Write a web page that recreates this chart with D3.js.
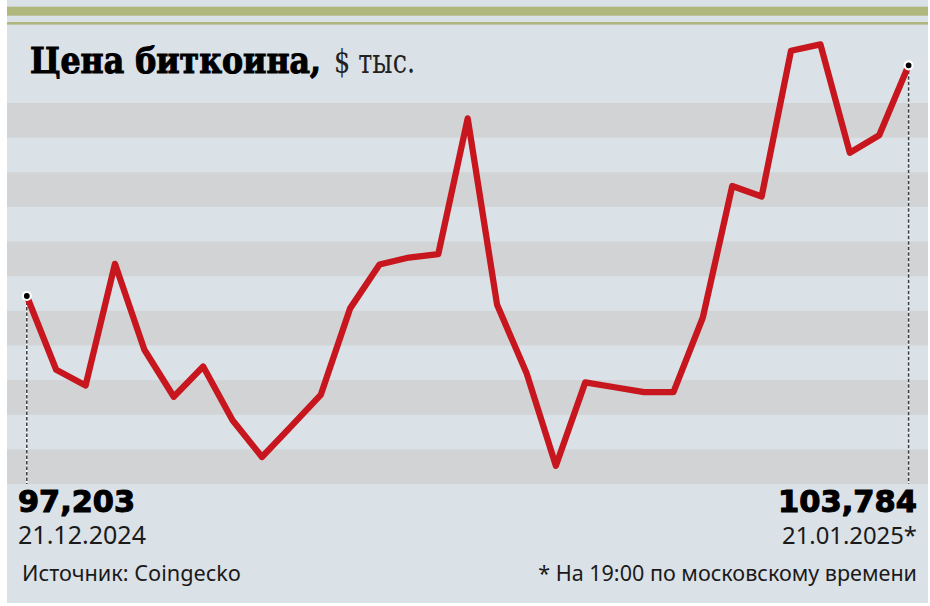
<!DOCTYPE html>
<html>
<head>
<meta charset="utf-8">
<script src="https://cdn.jsdelivr.net/npm/d3@7/dist/d3.min.js"></script>
<style>
  html, body { margin: 0; padding: 0; background: #ffffff; }
  svg { display: block; }
</style>
</head>
<body>
<svg id="chart" width="930" height="606"></svg>
<script>
// ---- Data (thousand USD per BTC) ----
const dates = [
  "21.12.2024","22.12.2024","23.12.2024","24.12.2024","25.12.2024","26.12.2024",
  "27.12.2024","28.12.2024","29.12.2024","30.12.2024","31.12.2024","02.01.2025",
  "03.01.2025","04.01.2025","05.01.2025","06.01.2025","07.01.2025","08.01.2025",
  "09.01.2025","10.01.2025","11.01.2025","12.01.2025","13.01.2025","14.01.2025",
  "15.01.2025","16.01.2025","17.01.2025","18.01.2025","19.01.2025","20.01.2025",
  "21.01.2025"
];
const prices = [
  97.203, 95.10, 94.65, 98.12, 95.67, 94.33, 95.19, 93.66, 92.61, 93.49,
  94.38, 96.85, 98.10, 98.30, 98.40, 102.27, 96.95, 95.01, 92.36, 94.74,
  94.60, 94.46, 94.46, 96.59, 100.34, 100.04, 104.20, 104.38, 101.29, 101.79,
  103.784
];
const titleBold = "Цена биткоина,";
const titleUnit = "$ тыс.";
const firstDateLabel = "21.12.2024";
const lastDateLabel = "21.01.2025*";
const sourceText = "Источник: Coingecko";
const noteText = "* На 19:00 по московскому времени";

// ---- Layout ----
const W = 930, H = 606;
const panel = { x: 7, y: 0, w: 921, h: 603 };
const plotTop = 103, plotBottom = 484, nStripes = 11;
const colors = {
  bg: "#dae1e7", stripe: "#d2d3d5", olive: "#afb77d",
  line: "#c8161e", text: "#111111"
};

const svg = d3.select("#chart");

svg.append("rect").attr("x", panel.x).attr("y", panel.y)
  .attr("width", panel.w).attr("height", panel.h).attr("fill", colors.bg);

// top olive bands
svg.append("rect").attr("x", panel.x).attr("y", 6.7).attr("width", panel.w)
  .attr("height", 9).attr("fill", colors.olive);
svg.append("rect").attr("x", panel.x).attr("y", 22).attr("width", panel.w)
  .attr("height", 2.6).attr("fill", colors.olive);

// stripes
const stripeH = (plotBottom - plotTop) / nStripes;
svg.append("g").selectAll("rect")
  .data(d3.range(0, nStripes, 2))
  .join("rect")
  .attr("x", panel.x).attr("width", panel.w)
  .attr("y", i => plotTop + i * stripeH)
  .attr("height", stripeH)
  .attr("fill", colors.stripe);

// scales
const x = d3.scalePoint().domain(dates).range([26.8, 908.6]);
const y = d3.scaleLinear().domain([97.203, 103.784]).range([296, 65.3]);

// dashed drop lines at the ends
const ends = [0, prices.length - 1];
const dropG = svg.append("g");
ends.forEach(i => {
  const cx = x(dates[i]), cy = y(prices[i]);
  dropG.append("line").attr("x1", cx).attr("x2", cx).attr("y1", cy).attr("y2", plotBottom)
    .attr("stroke", "#ffffff").attr("stroke-width", 1.5);
  dropG.append("line").attr("x1", cx).attr("x2", cx).attr("y1", cy).attr("y2", plotBottom)
    .attr("stroke", "#3a3d40").attr("stroke-width", 1.5).attr("stroke-dasharray", "3.5,2");
});

// price line
const line = d3.line().x((d, i) => x(dates[i])).y(d => y(d));
svg.append("path").datum(prices)
  .attr("d", line)
  .attr("fill", "none")
  .attr("stroke", colors.line)
  .attr("stroke-width", 6.3)
  .attr("stroke-linejoin", "round")
  .attr("stroke-linecap", "butt");

// end dots
svg.append("g").selectAll("circle").data(ends).join("circle")
  .attr("cx", i => x(dates[i])).attr("cy", i => y(prices[i]))
  .attr("r", 4).attr("fill", "#000").attr("stroke", "#fff").attr("stroke-width", 2.2);

// text helper: scale font so the text has the target width
function fit(sel, w) {
  const n = sel.node();
  const cur = n.getComputedTextLength();
  const fs = parseFloat(sel.attr("font-size"));
  if (cur > 0) sel.attr("font-size", (fs * w / cur).toFixed(2));
  return sel;
}

// title (size for height, textLength for width)
svg.append("text").attr("x", 30).attr("y", 73)
  .attr("font-family", "'DejaVu Serif Condensed', 'DejaVu Serif', serif")
  .attr("font-weight", 900).attr("font-stretch", "condensed")
  .attr("font-size", 35).attr("fill", "#000")
  .attr("stroke", "#000").attr("stroke-width", 1)
  .attr("textLength", 291).attr("lengthAdjust", "spacingAndGlyphs")
  .text(titleBold);
svg.append("text").attr("x", 334).attr("y", 73)
  .attr("font-family", "'DejaVu Serif Condensed', 'Liberation Serif', serif")
  .attr("font-stretch", "condensed")
  .attr("font-size", 34).attr("fill", "#222")
  .attr("textLength", 81).attr("lengthAdjust", "spacingAndGlyphs")
  .text(titleUnit);

// end value labels
const fmt = v => d3.format(".3f")(v).replace(".", ",");
const boldFont = "'DejaVu Sans', sans-serif";
const v1 = svg.append("text").attr("x", 18).attr("y", 511.5)
  .attr("font-family", boldFont).attr("font-weight", "bold")
  .attr("font-size", 29).attr("fill", "#000")
  .attr("stroke", "#000").attr("stroke-width", 1.1)
  .text(fmt(prices[0]));
fit(v1, 117);
const v2 = svg.append("text").attr("x", 917).attr("y", 511.5).attr("text-anchor", "end")
  .attr("font-family", boldFont).attr("font-weight", "bold")
  .attr("font-size", 29).attr("fill", "#000")
  .attr("stroke", "#000").attr("stroke-width", 1.1)
  .text(fmt(prices[prices.length - 1]));
fit(v2, 139);

const sansFont = "'Noto Sans', 'Open Sans', sans-serif";
const d1 = svg.append("text").attr("x", 18).attr("y", 543.5)
  .attr("font-family", sansFont).attr("font-size", 24).attr("fill", "#1a1a1a")
  .text(firstDateLabel);
fit(d1, 128);
const d2 = svg.append("text").attr("x", 917).attr("y", 543.5).attr("text-anchor", "end")
  .attr("font-family", sansFont).attr("font-size", 24).attr("fill", "#1a1a1a")
  .text(lastDateLabel);
fit(d2, 135);

// footer
const s1 = svg.append("text").attr("x", 22).attr("y", 580.5)
  .attr("font-family", sansFont).attr("font-size", 19).attr("fill", "#1a1a1a")
  .text(sourceText);
fit(s1, 219);
const s2 = svg.append("text").attr("x", 917).attr("y", 580.5).attr("text-anchor", "end")
  .attr("font-family", sansFont).attr("font-size", 19).attr("fill", "#1a1a1a")
  .text(noteText);
fit(s2, 379);
</script>
</body>
</html>
